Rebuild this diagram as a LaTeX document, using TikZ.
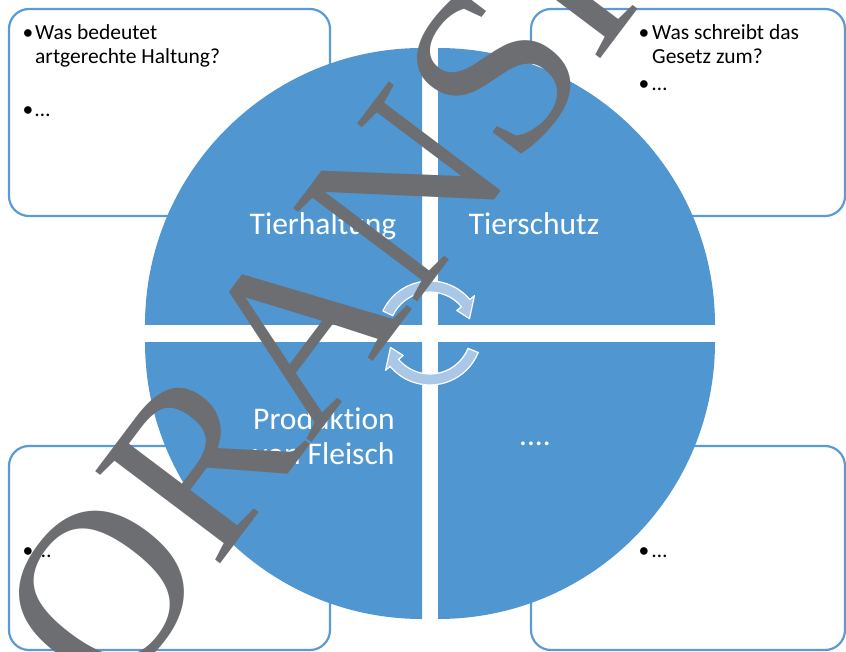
\documentclass[tikz,border=0pt]{standalone}
\usepackage{fontspec}
\setmainfont{Carlito}[Ligatures={NoCommon}]
\newfontfamily\stampfont{Liberation Serif}
\usetikzlibrary{calc}

\definecolor{quadblue}{HTML}{5097D1}
\definecolor{frameblue}{HTML}{5B9BD5}
\definecolor{cycleblue}{HTML}{ABC7E7}
\definecolor{stampgray}{HTML}{6D6E71}

\tikzset{
  quarter/.style  = {fill=quadblue},
  textbox/.style  = {draw=frameblue, line width=2.2pt, rounded corners=20pt, fill=white},
  quadtext/.style = {anchor=base, inner sep=0pt, align=center, text=white,
                     font=\fontsize{31.5}{35}\selectfont},
  boxtext/.style  = {anchor=base west, inner sep=0pt, align=left,
                     font=\fontsize{21.5}{23.5}\selectfont},
  dot/.style      = {anchor=base, inner sep=0pt, font=\fontsize{21.5}{23.5}\selectfont},
  cyclearrow/.style = {fill=cycleblue, draw=white, line width=1.2pt, line join=round},
  stamp/.style    = {anchor=base west, inner sep=0pt, rotate=53, text=stampgray,
                     font=\stampfont\fontsize{237}{237}\selectfont}
}

\begin{document}
\begin{tikzpicture}[x=1pt,y=-1pt]

\useasboundingbox (0,0) rectangle (846,652);
\fill[white] (0,0) rectangle (846,652);

% question boxes
\draw[textbox] (9,9) rectangle (330,216);
\draw[textbox] (531,9) rectangle (845,216);
\draw[textbox] (9,446) rectangle (330,650);
\draw[textbox] (531,446) rectangle (845,650);

% multi-line nodes sit on the baseline of their last line
\node[dot]     (tl1) at (28,40)   {•};
\node[boxtext] (tla) at (35,63.5) {Was bedeutet\\artgerechte Haltung?};
\node[dot]     (tl2) at (28,117)  {•};
\node[boxtext] (tlb) at (35,117)  {…};

\node[dot]     (tr1) at (644,40)   {•};
\node[boxtext] (tra) at (652,63.5) {Was schreibt das\\Gesetz zum?};
\node[dot]     (tr2) at (644,91)   {•};
\node[boxtext] (trb) at (652,91)   {…};

\node[dot]     (bl1) at (28,557)  {•};
\node[boxtext] (bla) at (36,557)  {…};
\node[dot]     (br1) at (644,557) {•};
\node[boxtext] (bra) at (652,557) {…};

% four quarters
\fill[quarter] (422,325) -- ++(-277pt,0pt) arc[start angle=180, end angle=90, radius=277pt] -- cycle;
\fill[quarter] (438,325) -- ++(0pt,277pt) arc[start angle=90, end angle=0, radius=277pt] -- cycle;
\fill[quarter] (422,342) -- ++(-277pt,0pt) arc[start angle=180, end angle=270, radius=277pt] -- cycle;
\fill[quarter] (438,342) -- ++(277pt,0pt) arc[start angle=0, end angle=-90, radius=277pt] -- cycle;

\node[quadtext] (haltung)    at (323,235) {Tierhaltung};
\node[quadtext] (schutz)     at (534,235) {Tierschutz};
\node[quadtext] (produktion) at (324,464) {Produktion\\von Fleisch};
\node[quadtext] (weiteres)   at (535,445) {....};

% cycle arrows
\coordinate (hub) at (430,333);
\draw[cyclearrow] ($(hub)+(155:52pt)$) arc[start angle=155, end angle=40, radius=52pt]
  -- ($(hub)+(40:58pt)$) -- ($(hub)+(20:42pt)$) -- ($(hub)+(40:35pt)$)
  -- ($(hub)+(40:41pt)$) arc[start angle=40, end angle=155, radius=41pt] -- cycle;
\draw[cyclearrow] ($(hub)+(-22:52pt)$) arc[start angle=-22, end angle=-140, radius=52pt]
  -- ($(hub)+(-140:58pt)$) -- ($(hub)+(-160:42pt)$) -- ($(hub)+(-140:35pt)$)
  -- ($(hub)+(-140:41pt)$) arc[start angle=-140, end angle=-22, radius=41pt] -- cycle;

% watermark
\node[stamp] (voransicht) at (9,844) {VORANSICHT};

\end{tikzpicture}
\end{document}
